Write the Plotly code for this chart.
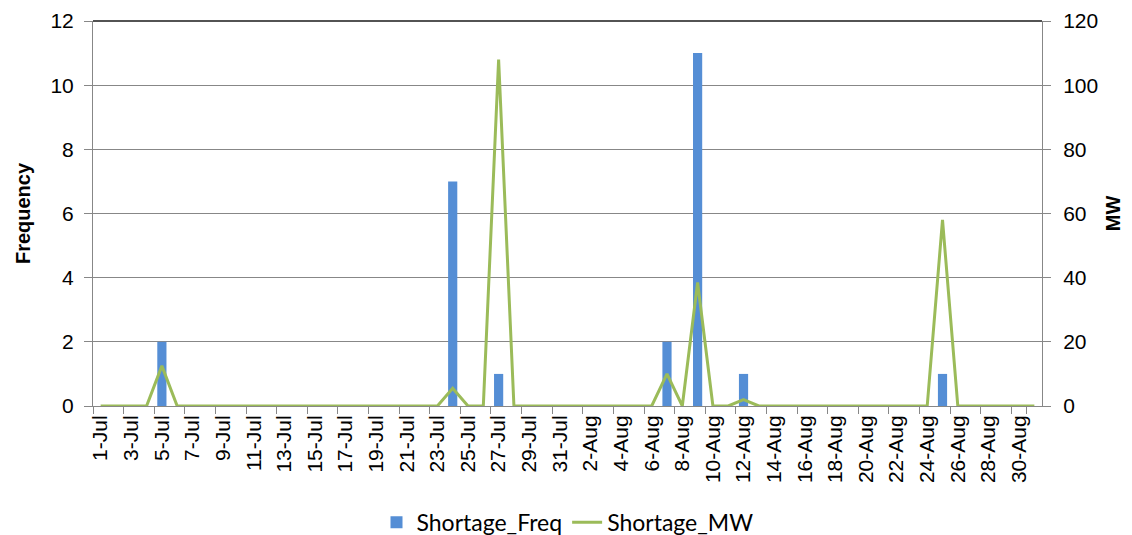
import plotly.graph_objects as go

# daily shortage data, 1-Jul .. 31-Aug
dates = [f"{d}-Jul" for d in range(1, 32)] + [f"{d}-Aug" for d in range(1, 32)]

shortage_freq = [0, 0, 0, 0, 2, 0, 0, 0, 0, 0,
                 0, 0, 0, 0, 0, 0, 0, 0, 0, 0,
                 0, 0, 0, 7, 0, 0, 1, 0, 0, 0,
                 0,
                 0, 0, 0, 0, 0, 0, 2, 0, 11, 0,
                 0, 1, 0, 0, 0, 0, 0, 0, 0, 0,
                 0, 0, 0, 0, 1, 0, 0, 0, 0, 0,
                 0]

shortage_mw = [0, 0, 0, 0, 12.5, 0, 0, 0, 0, 0,
               0, 0, 0, 0, 0, 0, 0, 0, 0, 0,
               0, 0, 0, 5.5, 0, 0, 108, 0, 0, 0,
               0,
               0, 0, 0, 0, 0, 0, 10, 0, 38.5, 0,
               0, 2, 0, 0, 0, 0, 0, 0, 0, 0,
               0, 0, 0, 0, 58, 0, 0, 0, 0, 0,
               0]

tick_labels = dates[::2]

grey = "#878787"
tick_font = dict(family="Liberation Sans, Arial", size=21, color="#000000")
xtick_font = dict(family="Liberation Sans, Arial", size=21, color="#000000")
title_font = dict(family="Liberation Sans, Arial", size=20, color="#000000")

fig = go.Figure()
fig.add_trace(go.Bar(x=dates, y=shortage_freq, name="Shortage_Freq",
                     marker=dict(color="#558ED5", line=dict(width=0)),
                     width=0.6, yaxis="y"))
fig.add_trace(go.Scatter(x=dates, y=shortage_mw, name="Shortage_MW",
                         mode="lines", line=dict(color="#9BBB59", width=3),
                         yaxis="y2"))

# page body adds an 8px offset, so the figure is sized 8px smaller
fig.update_layout(
    width=1124, height=527,
    margin=dict(l=85, r=90, t=13, b=129),
    paper_bgcolor="white", plot_bgcolor="white",
    showlegend=True,
    legend=dict(orientation="h", x=0.5, xanchor="center",
                yref="container", y=0.024, yanchor="middle",
                font=dict(family="Lato", size=23, color="#000000"),
                itemwidth=30),
    xaxis=dict(type="category", categoryorder="array", categoryarray=dates,
               tickmode="array", tickvals=tick_labels, ticktext=tick_labels,
               tickson="boundaries", tickangle=-90, tickfont=xtick_font,
               ticks="outside", ticklen=7, tickcolor=grey,
               showgrid=False, showline=True, linecolor=grey, linewidth=1,
               automargin=False, ticklabeloverflow="allow",
               range=[-0.5, len(dates) - 0.5]),
    yaxis=dict(range=[0, 12], dtick=2, tickfont=tick_font,
               ticks="outside", ticklen=8, tickcolor=grey,
               ticklabelstandoff=6, automargin=False,
               ticklabeloverflow="allow",
               showgrid=True, gridcolor=grey, gridwidth=1,
               showline=True, linecolor=grey, linewidth=1, zeroline=False,
               title=dict(text="<b>Frequency</b>", standoff=14,
                          font=title_font)),
    yaxis2=dict(range=[0, 120], dtick=20, overlaying="y", side="right",
                tickfont=tick_font, ticks="outside", ticklen=8, tickcolor=grey,
                ticklabelstandoff=8, automargin=False,
                ticklabeloverflow="allow",
                showgrid=False, showline=True, linecolor=grey, linewidth=1,
                zeroline=False,
                title=dict(text="<b>MW</b>", standoff=8, font=title_font)),
    bargap=0.4,
)

# dark top border of the plot area
fig.add_shape(type="line", xref="paper", yref="paper", x0=0, x1=1, y0=1, y1=1,
              line=dict(color="#1a1a1a", width=1.5))

fig.write_html("out.html")
